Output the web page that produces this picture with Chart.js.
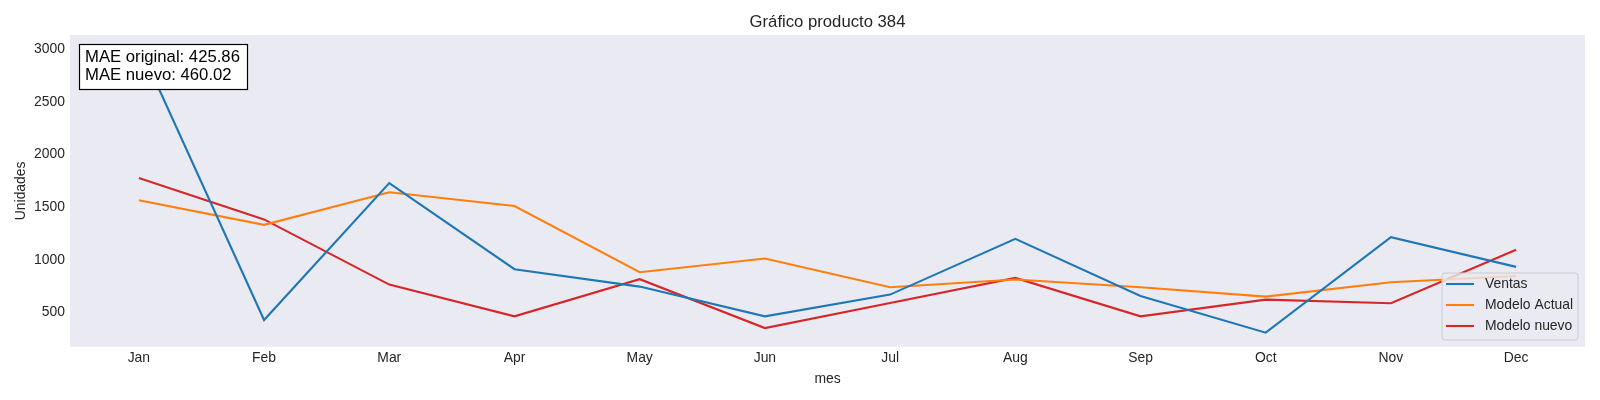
<!DOCTYPE html>
<html>
<head>
<meta charset="utf-8">
<script src="https://cdn.jsdelivr.net/npm/chart.js@4/dist/chart.umd.min.js"></script>
<style>
  html, body { margin: 0; padding: 0; background: #fff; }
  #wrap { width: 1600px; height: 400px; }
</style>
</head>
<body>
<div id="wrap"><canvas id="chart"></canvas></div>
<script>
const months = ["Jan", "Feb", "Mar", "Apr", "May", "Jun", "Jul", "Aug", "Sep", "Oct", "Nov", "Dec"]
const ventas = [3040, 430, 1729, 912, 747, 465, 671, 1200, 658, 310, 1216, 934]
const modeloActual = [1565, 1333, 1641, 1511, 883, 1013, 741, 814, 741, 652, 788, 848]
const modeloNuevo = [1777, 1384, 766, 465, 817, 354, 592, 829, 465, 623, 589, 1096]
const yTicks = [500, 1000, 1500, 2000, 2500, 3000]
const maeLines = ["MAE original: 425.86", "MAE nuevo: 460.02"]

const FONT = "'Liberation Sans', Arial, sans-serif"
const TEXT = "#262626"

const toPoints = arr => arr.map((v, i) => ({ x: i, y: v }))

const decorations = {
  id: "decorations",
  beforeDraw(chart) {
    const { ctx, chartArea: a } = chart
    ctx.save()
    ctx.fillStyle = "#EAEAF2"
    ctx.fillRect(a.left, a.top, a.right - a.left, a.bottom - a.top)
    ctx.restore()
  },
  afterDraw(chart) {
    const { ctx, chartArea: a } = chart
    ctx.save()
    ctx.fillStyle = TEXT
    ctx.textAlign = "center"
    ctx.textBaseline = "alphabetic"

    // title
    ctx.font = "16.7px " + FONT
    ctx.fillText("Gráfico producto 384", (a.left + a.right) / 2, 27.3)

    // axis titles
    ctx.font = "13.9px " + FONT
    ctx.fillText("mes", (a.left + a.right) / 2, 382.7)
    ctx.save()
    ctx.translate(25, (a.top + a.bottom) / 2)
    ctx.rotate(-Math.PI / 2)
    ctx.fillText("Unidades", 0, 0)
    ctx.restore()

    // MAE box
    ctx.fillStyle = "#ffffff"
    ctx.strokeStyle = "#000000"
    ctx.lineWidth = 1.2
    ctx.fillRect(79.5, 44.5, 168, 45)
    ctx.strokeRect(79.5, 44.5, 168, 45)
    ctx.fillStyle = "#000000"
    ctx.textAlign = "left"
    ctx.font = "16.7px " + FONT
    ctx.fillText(maeLines[0], 85, 62.3)
    ctx.fillText(maeLines[1], 85, 80)

    // legend, lower right
    const lx = 1442, ly = 273, lw = 136, lh = 67
    ctx.beginPath()
    ctx.roundRect(lx, ly, lw, lh, 3)
    ctx.fillStyle = "rgba(234,234,242,0.8)"
    ctx.fill()
    ctx.strokeStyle = "#cccccc"
    ctx.lineWidth = 1
    ctx.stroke()
    ctx.font = "13.9px " + FONT
    ctx.textBaseline = "middle"
    chart.data.datasets.forEach((ds, i) => {
      const ry = 284 + i * 21
      ctx.strokeStyle = ds.borderColor
      ctx.lineWidth = 2.1
      ctx.beginPath()
      ctx.moveTo(1446, ry)
      ctx.lineTo(1474, ry)
      ctx.stroke()
      ctx.fillStyle = TEXT
      ctx.fillText(ds.label, 1485, ry + 0.5)
    })
    ctx.restore()
  }
}

new Chart(document.getElementById("chart"), {
  type: "line",
  data: {
    datasets: [
      { label: "Ventas", data: toPoints(ventas), borderColor: "#1f77b4" },
      { label: "Modelo Actual", data: toPoints(modeloActual), borderColor: "#ff7f0e" },
      { label: "Modelo nuevo", data: toPoints(modeloNuevo), borderColor: "#d62728" }
    ]
  },
  options: {
    responsive: true,
    maintainAspectRatio: false,
    animation: false,
    devicePixelRatio: 1,
    layout: { padding: { left: 0, right: 15, top: 35, bottom: 0 } },
    elements: {
      line: { borderWidth: 2.1, tension: 0, fill: false },
      point: { radius: 0, hoverRadius: 0 }
    },
    plugins: {
      legend: { display: false },
      title: { display: false },
      tooltip: { enabled: false }
    },
    scales: {
      x: {
        type: "linear",
        min: -0.55,
        max: 11.55,
        grid: { display: false, drawTicks: false },
        border: { display: false },
        afterBuildTicks: scale => { scale.ticks = months.map((m, i) => ({ value: i })) },
        afterFit: scale => { scale.height = 53.3 },
        ticks: {
          padding: 3,
          color: TEXT,
          font: { family: FONT, size: 13.9 },
          callback: v => months[v]
        }
      },
      y: {
        min: 177,
        max: 3133,
        grid: { display: false, drawTicks: false },
        border: { display: false },
        afterBuildTicks: scale => { scale.ticks = yTicks.map(v => ({ value: v })) },
        afterFit: scale => { scale.width = 70 },
        ticks: {
          padding: 5,
          color: TEXT,
          font: { family: FONT, size: 13.9 },
          callback: v => String(v)
        }
      }
    }
  },
  plugins: [decorations]
})
</script>
</body>
</html>
